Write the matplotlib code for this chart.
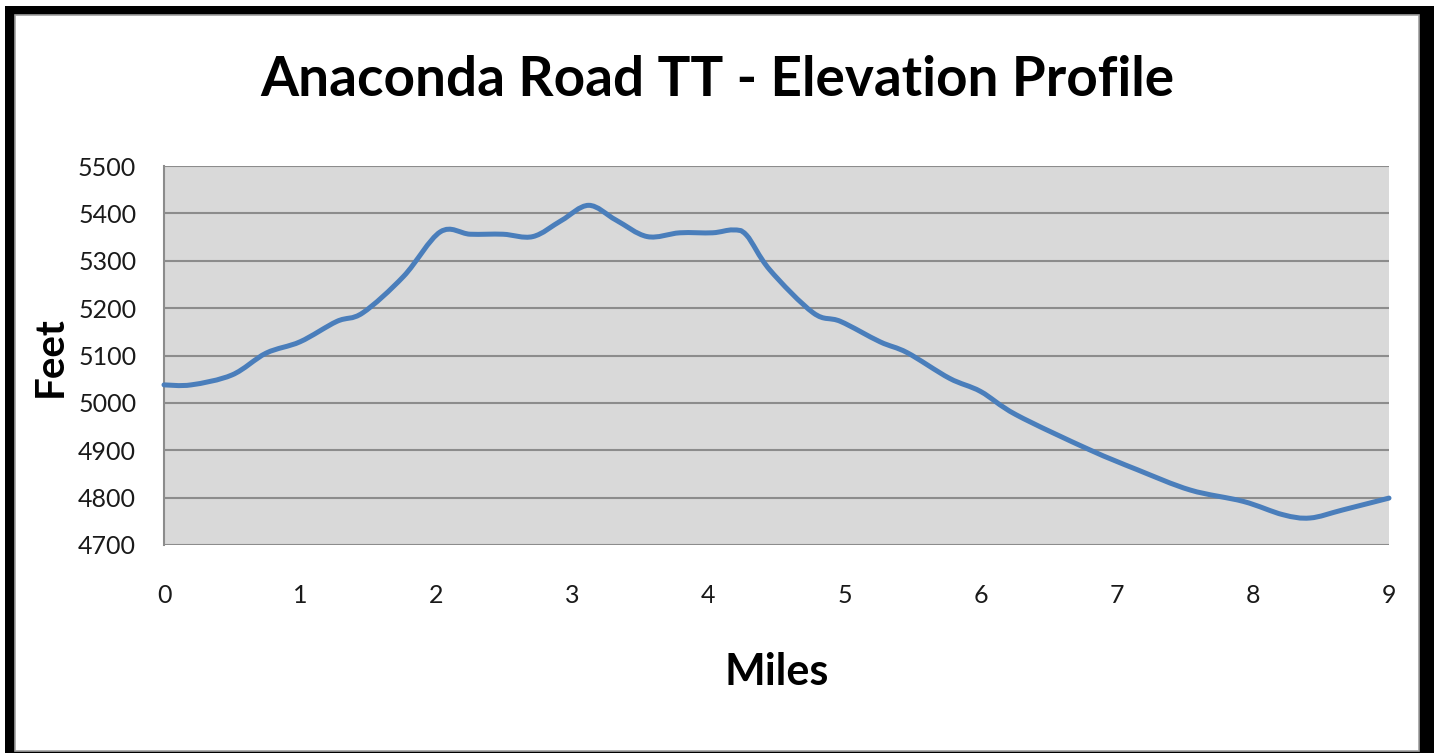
import numpy as np
import matplotlib
matplotlib.use("Agg")
import matplotlib.pyplot as plt
from matplotlib.path import Path
from matplotlib.patches import PathPatch, Rectangle

# elevation profile
miles = [0, 0.2, 0.5, 0.75, 1.0, 1.27, 1.46, 1.76, 2.03, 2.25, 2.49, 2.71,
         2.92, 3.12, 3.32, 3.55, 3.79, 4.03, 4.18, 4.28, 4.45, 4.77, 4.97,
         5.26, 5.46, 5.77, 6.0, 6.26, 6.8, 7.15, 7.54, 7.93, 8.22, 8.42,
         8.66, 9.0]
feet = [5038, 5038, 5059, 5105, 5129, 5172, 5190, 5267, 5361, 5356, 5356, 5351,
        5385, 5417, 5386, 5351, 5359, 5359, 5365, 5354, 5281, 5190, 5172,
        5129, 5106, 5052, 5024, 4975, 4901, 4859, 4816, 4792, 4764, 4757,
        4774, 4799]
x_ticks = list(range(0, 10))
y_ticks = list(range(4700, 5600, 100))

title = "Anaconda Road TT - Elevation Profile"
font = "Lato"


def smooth_path(xs, ys):
    # excel style smoothed line: bezier segments through the points
    p = np.column_stack([xs, ys]).astype(float)
    n = len(p)
    verts = [p[0]]
    codes = [Path.MOVETO]
    for i in range(n - 1):
        p0 = p[i - 1] if i > 0 else p[i]
        p3 = p[i + 2] if i + 2 < n else p[i + 1]
        c1 = p[i] + (p[i + 1] - p0) / 6.0
        c2 = p[i + 1] - (p3 - p[i]) / 6.0
        verts += [c1, c2, p[i + 1]]
        codes += [Path.CURVE4] * 3
    return Path(verts, codes)


W, H = 1434, 753
fig = plt.figure(figsize=(W / 100, H / 100), dpi=100)

# frame: black outer border and white panel with thin gray edge
fig.add_artist(Rectangle((5 / 100, -0.5), (W - 5) / 100 + 1, (H - 6) / 100 + 0.5,
                         transform=fig.dpi_scale_trans, facecolor="black",
                         edgecolor="none", zorder=-2))
fig.add_artist(Rectangle((15 / 100, (H - 751) / 100), (1419 - 15) / 100, (751 - 15) / 100,
                         transform=fig.dpi_scale_trans, facecolor="white",
                         edgecolor="#a0a0a0", linewidth=1.2, zorder=-1))

ax = fig.add_axes([164 / W, 1 - 545 / H, (1389 - 164) / W, (545 - 166) / H])
ax.set_facecolor("#d9d9d9")
ax.set_xlim(0, 9)
ax.set_ylim(4700, 5500)
ax.set_xticks(x_ticks)
ax.set_yticks(y_ticks)
ax.grid(axis="y", color="#8c8c8c", linewidth=1.5)
ax.set_axisbelow(True)
for s in ["top", "right", "bottom"]:
    ax.spines[s].set_visible(False)
ax.spines["left"].set_color("#8c8c8c")
ax.spines["left"].set_linewidth(1.5)
ax.tick_params(length=0, labelsize=18, labelcolor="#1a1a1a")
ax.tick_params(axis="x", pad=28)
ax.tick_params(axis="y", pad=20)
for lab in ax.get_xticklabels() + ax.get_yticklabels():
    lab.set_fontfamily(font)

ax.add_patch(PathPatch(smooth_path(miles, feet), facecolor="none",
                       edgecolor="#4a7ebb", linewidth=3.6, capstyle="round",
                       joinstyle="round", clip_on=False, zorder=3))

fig.text(717 / W, 1 - 80 / H, title, ha="center", va="center",
         fontsize=39.5, fontweight="bold", fontfamily=font)
fig.text(777 / W, 1 - 672 / H, "Miles", ha="center", va="center",
         fontsize=31, fontweight="bold", fontfamily=font)
fig.text(50 / W, 1 - 357 / H, "Feet", ha="center", va="center", rotation=90,
         fontsize=29, fontweight="bold", fontfamily=font)

fig.savefig("out.png", dpi=100)
